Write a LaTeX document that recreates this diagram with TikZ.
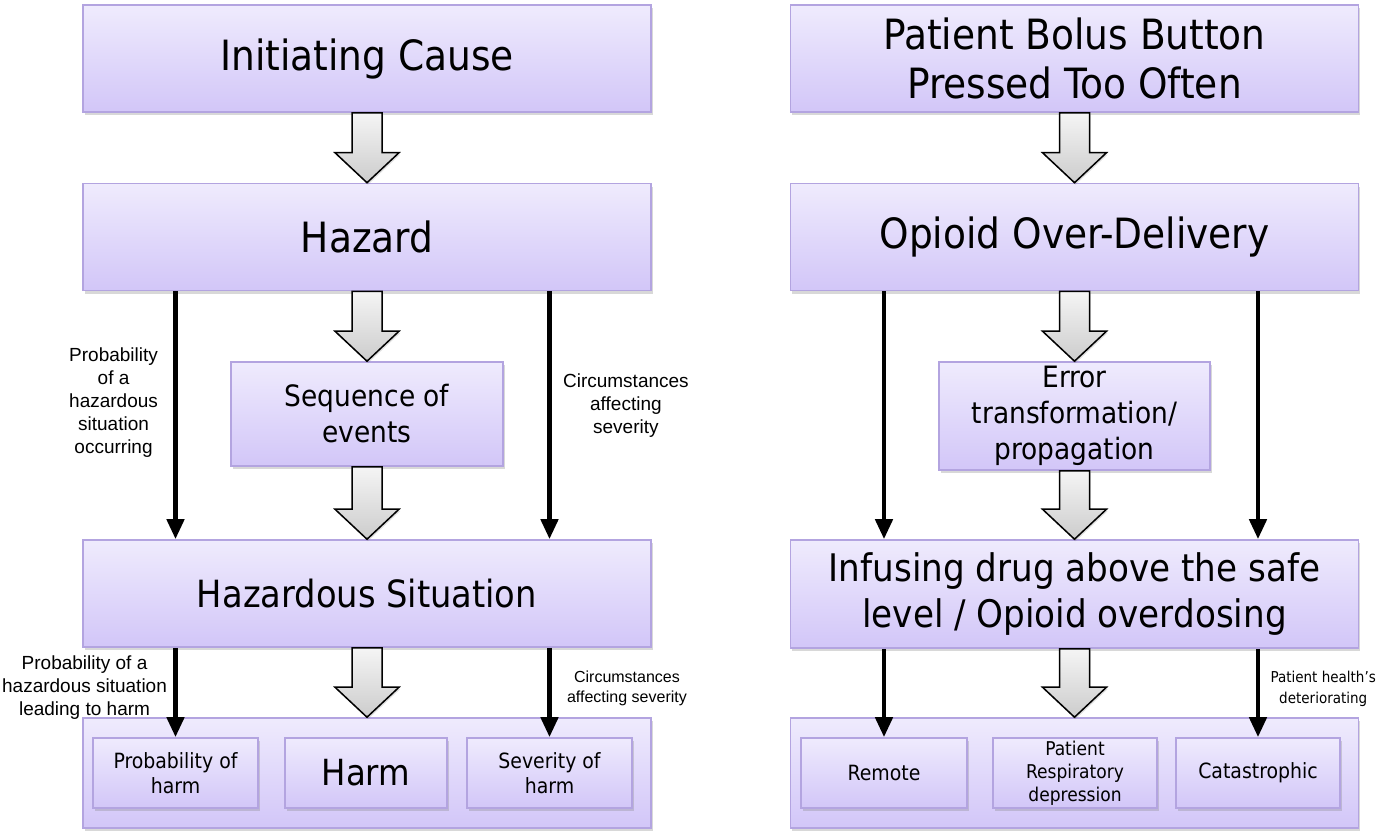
\documentclass[tikz,border=0pt]{standalone}
\usepackage{fontspec}
\setmainfont{DejaVu Sans Condensed}
\newfontfamily\arialf{Liberation Sans}
\usetikzlibrary{arrows.meta,calc,shadows}

\definecolor{boxtop}{HTML}{EFEBFD}
\definecolor{boxbot}{HTML}{D2C6F8}
\definecolor{boxline}{HTML}{B3A4E0}

\tikzset{
    box/.style={draw=boxline, line width=1.6pt, top color=boxtop, bottom color=boxbot,
        inner sep=0pt, align=center,
        drop shadow={shadow xshift=1.5pt, shadow yshift=-3pt, opacity=.3}},
    bigbox/.style={box, minimum width=568pt, minimum height=107pt,
        font=\fontsize{41.7}{49}\selectfont},
    midbox/.style={box, minimum width=272pt, minimum height=106pt,
        font=\fontsize{29.4}{36}\selectfont},
    smallbox/.style={box, minimum width=165pt, minimum height=70pt,
        font=\fontsize{21}{25}\selectfont},
    blockarrow/.style={draw=black, line width=1.5pt, line join=miter,
        top color=gray!8, bottom color=gray!40,
        drop shadow={shadow xshift=1pt, shadow yshift=-2pt, opacity=.25}},
    flow/.style={line width=4.5pt, -{Triangle[width=17pt,length=20pt]}},
    note/.style={font=\arialf\fontsize{19}{23}\selectfont, align=center}
}

% hollow grey arrow between two anchors
\newcommand{\bigarrow}[2]{%
    \draw[blockarrow] ($(#1)+(-15,0)$) -- ($(#2)+(-15,-30)$) -- ($(#2)+(-32,-30)$)
        -- (#2) -- ($(#2)+(32,-30)$) -- ($(#2)+(15,-30)$) -- ($(#1)+(15,0)$) -- cycle;}

\begin{document}
\begin{tikzpicture}[x=1pt, y=-1pt]
    \path[fill=white, use as bounding box] (0,0) rectangle (1387,832);

    % left column
    \node[bigbox] (init) at (367, 58.5){Initiating Cause};
    \node[bigbox] (hazard) at (367, 237){Hazard};
    \node[midbox, minimum height=104pt] (seq) at (367, 414){Sequence of\\events};
    \node[bigbox, font=\fontsize{37.5}{45}\selectfont] (sit) at (367, 593.5){Hazardous Situation};
    \node[bigbox, minimum height=110pt] (harmbox) at (367, 773){};
    \node[smallbox] (probharm) at (175.5, 773){Probability of\\harm};
    \node[smallbox, minimum width=162pt, font=\fontsize{36}{40}\selectfont] (harm) at (366, 773){Harm};
    \node[smallbox] (sevharm) at (549.5, 773){Severity of\\harm};

    % right column
    \node[bigbox] (bolus) at (1074.5, 58.5){Patient Bolus Button\\Pressed Too Often};
    \node[bigbox] (over) at (1074.5, 237){Opioid Over-Delivery};
    \node[midbox, minimum width=271pt, minimum height=108pt] (err) at (1074.5, 416){Error\\transformation/\\propagation};
    \node[bigbox, minimum height=108pt, font=\fontsize{38}{46}\selectfont] (infuse) at (1074.5, 594){Infusing drug above the safe\\level / Opioid overdosing};
    \node[bigbox, minimum height=110pt] (outcome) at (1074.5, 773){};
    \node[smallbox, minimum width=166pt] (remote) at (884, 773){Remote};
    \node[smallbox, minimum width=164pt, font=\fontsize{19}{23}\selectfont] (resp) at (1075, 773){Patient\\Respiratory\\depression};
    \node[smallbox, minimum width=164pt] (cat) at (1258, 773){Catastrophic};

    % grey block arrows
    \foreach \a/\b in {init/hazard, hazard/seq, seq/sit, sit/harmbox,
                       bolus/over, over/err, err/infuse, infuse/outcome}
        {
            \bigarrow{\a.south}{\b.north}
        }

    % black arrows with their labels
    \draw[flow] (hazard.south -| probharm.north) -- (sit.north -| probharm.north)
        node[note, pos=.45, left=12pt]{Probability\\of a\\hazardous\\situation\\occurring};
    \draw[flow] (hazard.south -| sevharm.north) -- (sit.north -| sevharm.north)
        node[note, pos=.46, right=8pt]{Circumstances\\affecting\\severity};
    \draw[flow] (sit.south -| probharm.north) -- (probharm.north)
        node[note, pos=.45, left=3pt]{Probability of a\\hazardous situation\\leading to harm};
    \draw[flow] (sit.south -| sevharm.north) -- (sevharm.north)
        node[note, pos=.45, right=12pt, font=\arialf\fontsize{16}{20}\selectfont]{Circumstances\\affecting severity};

    \draw[flow] (over.south -| remote.north) -- (infuse.north -| remote.north);
    \draw[flow] (over.south -| cat.north) -- (infuse.north -| cat.north);
    \draw[flow] (infuse.south -| remote.north) -- (remote.north);
    \draw[flow] (infuse.south -| cat.north) -- (cat.north)
        node[note, pos=.45, right=7pt, font=\fontsize{15}{21}\selectfont]{Patient health's\\deteriorating};
\end{tikzpicture}
\end{document}
